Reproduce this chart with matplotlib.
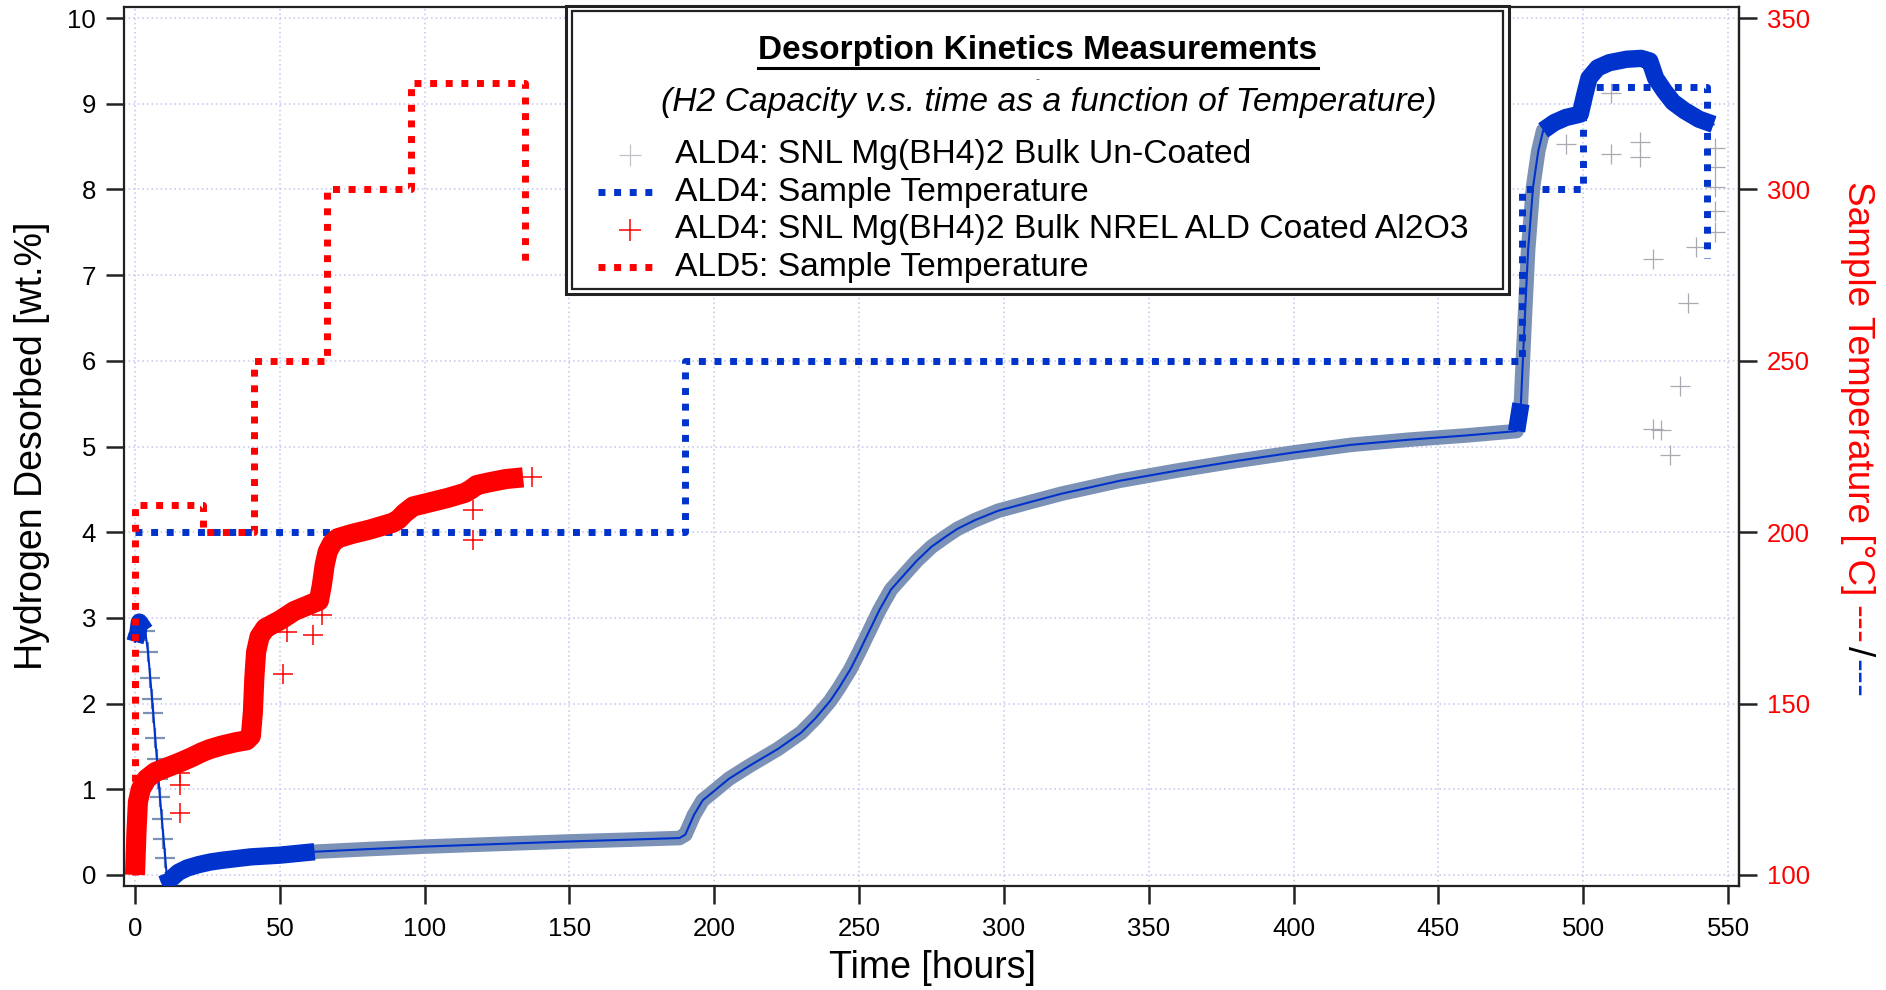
import numpy as np
import matplotlib
matplotlib.use('Agg')
import matplotlib.pyplot as plt
from matplotlib.lines import Line2D
from matplotlib.patches import Rectangle

plt.rcParams['font.family'] = ['Liberation Sans', 'DejaVu Sans']

# ---- ALD4 un-coated: H2 desorbed [wt.%] vs time [h] ----
ald4_time = [0, 0.5, 1.0, 1.5, 2.5, 3.5, 4.5, 6.3, 8.6, 10.9, 11.8, 13, 15, 18, 22, 26, 30, 35, 40, 45,
             50, 56, 62, 80, 100, 125, 150, 170, 188, 190, 193, 196, 200, 205, 212, 222, 230, 235, 240, 243,
             247, 250, 254, 257, 261, 266, 270, 275, 280, 284, 290, 298, 310, 320, 340, 360, 380, 400, 420, 440,
             460, 477, 478.5, 479.8, 481, 482.7, 484.5, 486.2, 490, 494, 499, 500.5, 502, 505, 509, 515, 520, 523,
             525, 528, 531, 535, 540, 545]
ald4_h2 = [2.72, 2.78, 2.82, 2.95, 2.9, 2.85, 2.6, 1.89, 0.91, 0.02, -0.06, -0.03, 0.03, 0.08, 0.12, 0.15, 0.17, 0.19, 0.21, 0.22,
           0.23, 0.25, 0.27, 0.3, 0.33, 0.36, 0.39, 0.41, 0.43, 0.47, 0.7, 0.87, 0.98, 1.12, 1.27, 1.47, 1.66, 1.83, 2.03, 2.18,
           2.4, 2.6, 2.88, 3.09, 3.33, 3.52, 3.67, 3.83, 3.95, 4.04, 4.14, 4.25, 4.36, 4.45, 4.6, 4.72, 4.83, 4.93, 5.02, 5.08,
           5.13, 5.18, 5.5, 6.47, 7.3, 8.03, 8.45, 8.69, 8.78, 8.84, 8.88, 9.1, 9.3, 9.42, 9.48, 9.52, 9.53, 9.5,
           9.3, 9.15, 9.02, 8.92, 8.82, 8.76]
# early drop, read from the "+" marks
ald4_drop_time = [3.5, 4.5, 5.2, 5.9, 6.3, 7.0, 7.6, 8.1, 8.6, 9.2, 9.8, 10.4]
ald4_drop_h2 = [2.85, 2.6, 2.3, 2.05, 1.89, 1.6, 1.35, 1.12, 0.91, 0.65, 0.42, 0.2]
# scattered points
ald4_out_time = [494.2, 509.7, 509.7, 519.5, 519.5, 524.1, 539, 536.2, 533.4, 524.1, 527, 530,
                 545.4, 545.4, 545.4, 545.4, 545.4]
ald4_out_h2 = [8.53, 9.13, 8.41, 8.55, 8.38, 7.19, 7.33, 6.67, 5.71, 5.21, 5.19, 4.90,
               8.49, 8.26, 8.03, 7.75, 7.5]

# ---- ALD4 NREL ALD coated Al2O3 ----
coat_time = [0, 0.5, 1.0, 2.0, 4.0, 7, 10, 13, 16, 20, 23, 26, 30, 35, 38.5, 40, 40.7, 41.2, 41.8, 43,
             45, 50, 55, 60, 63.5, 64.5, 65.5, 66.5, 68, 70, 75, 81, 85, 89, 91, 93, 96, 102, 108, 114,
             116, 118, 122, 128, 134]
coat_h2 = [0, 0.5, 0.85, 1.0, 1.12, 1.2, 1.24, 1.28, 1.32, 1.38, 1.43, 1.47, 1.51, 1.55, 1.57, 1.62, 1.9, 2.3, 2.6, 2.78,
           2.88, 2.97, 3.08, 3.15, 3.2, 3.38, 3.62, 3.77, 3.87, 3.93, 3.98, 4.03, 4.07, 4.11, 4.15, 4.22, 4.3, 4.35, 4.4, 4.46,
           4.5, 4.55, 4.58, 4.62, 4.64]
coat_out_time = [15.5, 15.5, 15.5, 51.2, 52.4, 61.5, 64.4, 116.7, 116.7, 136.9]
coat_out_h2 = [1.19, 1.05, 0.72, 2.35, 2.84, 2.80, 3.03, 4.26, 3.91, 4.64]

# ---- sample temperatures [°C] ----
ald4_temp_time = [0, 190, 190, 479, 479, 500, 500, 542.8, 542.8]
ald4_temp = [200, 200, 250, 250, 300, 300, 329.8, 329.8, 280]
ald5_temp_time = [0, 0, 23.6, 23.6, 41.1, 41.1, 66.4, 66.4, 95.4, 95.4, 134.8, 134.8]
ald5_temp = [100, 208, 208, 200, 200, 250, 250, 300, 300, 331, 331, 277]

x_ticks = list(range(0, 551, 50))
y_ticks = list(range(0, 11))
t_ticks = [100, 150, 200, 250, 300, 350]

legend_labels = ['ALD4: SNL Mg(BH4)2 Bulk Un-Coated',
                 'ALD4: Sample Temperature',
                 'ALD4: SNL Mg(BH4)2 Bulk NREL ALD Coated Al2O3',
                 'ALD5: Sample Temperature']

BLUE = '#0033cc'
BAND = '#7b92b6'
RED = '#ff0000'
GRAY = '#a9a9b2'
DOTS = (0, (1, 1.25))


def t2y(T):
    return (np.asarray(T, dtype=float) - 100.0) / 25.0


def y2t(y):
    return np.asarray(y, dtype=float) * 25.0 + 100.0


W, H = 1886, 990


def fx(px):
    return px / W


def fy(py):
    return 1 - py / H


fig = plt.figure(figsize=(W / 100, H / 100), dpi=100)
ax = fig.add_axes([fx(124), fy(886), (1739 - 124) / W, (886 - 7) / H])

t = np.array(ald4_time)
h = np.array(ald4_h2)

# grey/blue band made of the dense "+" marks, thin blue line through it
band = t >= 10.9
ax.plot(t[band], h[band], color=BAND, lw=10.5, solid_capstyle='butt', zorder=2)
for m in [t <= 3.5, (t >= 10.9) & (t <= 62), (t >= 477) & (t <= 478.5), t >= 486.2]:
    ax.plot(t[m], h[m], color=BLUE, lw=12.5, solid_capstyle='butt', zorder=3)
ax.plot(ald4_drop_time, ald4_drop_h2, ls='none', marker='+', ms=15, mew=1.6, color=BAND, zorder=2)
ax.plot(t, h, color=BLUE, lw=1.5, zorder=4)
ax.plot(ald4_out_time, ald4_out_h2, ls='none', marker='+', ms=14, mew=0.9, color=GRAY, zorder=3)

ax.plot(ald4_temp_time, t2y(ald4_temp), color=BLUE, lw=5, ls=DOTS, zorder=5)

ax.plot(coat_time, coat_h2, color=RED, lw=14.5, solid_capstyle='butt', solid_joinstyle='round', zorder=6)
ax.plot(coat_out_time, coat_out_h2, ls='none', marker='+', ms=15, mew=1.1, color=RED, zorder=6)

ax.plot(ald5_temp_time, t2y(ald5_temp), color=RED, lw=5, ls=DOTS, zorder=7)

ax.set_xlim(-3.8, 553.8)
ax.set_ylim(-0.13, 10.13)
ax.set_xticks(x_ticks)
ax.set_yticks(y_ticks)
ax.grid(True, color='#c4c4ec', lw=1.1, ls=(0, (1, 2)))
ax.set_axisbelow(True)
for s in ax.spines.values():
    s.set_linewidth(1.6)
    s.set_color('#222222')
ax.tick_params(direction='out', length=13, width=1.8, color='#222222', labelsize=18.5, pad=7)
ax.tick_params(axis='x', pad=9)

sec = ax.secondary_yaxis('right', functions=(y2t, t2y))
sec.set_yticks(t_ticks)
sec.tick_params(direction='out', length=13, width=1.8, color='#222222', labelsize=18.5,
                labelcolor=RED, pad=7)
sec.spines['right'].set_linewidth(1.6)
sec.spines['right'].set_color('#222222')

# axis titles
fig.text(fx(32), fy(446), 'Hydrogen Desorbed [wt.%]', rotation=90, ha='center', va='center', fontsize=27)
fig.text(fx(932), fy(968), 'Time [hours]', ha='center', va='center', fontsize=27)

# ---- legend box ----
fig.patches.append(Rectangle((fx(566), fy(294)), (1509 - 566) / W, (294 - 6) / H, transform=fig.transFigure,
                             facecolor='white', edgecolor='#222222', lw=2.2, zorder=10))
fig.patches.append(Rectangle((fx(572), fy(289)), (1503 - 572) / W, (289 - 11) / H, transform=fig.transFigure,
                             facecolor='none', edgecolor='#222222', lw=1.6, zorder=11))

title = fig.text(fx(1038), fy(50), 'Desorption Kinetics Measurements', ha='center', va='center',
                 fontsize=24, fontweight='bold', zorder=12)
fig.text(fx(1049), fy(103), '(H2 Capacity v.s. time as a function of Temperature)', ha='center', va='center',
         fontsize=24.2, style='italic', zorder=12)
fig.text(fx(1038), fy(80), '-', ha='center', va='center', fontsize=9, color='#555555', zorder=12)

rows = [155, 192, 230, 267]
handles = [
    dict(xdata=[fx(630)], ls='none', marker='+', ms=16, mew=0.9, color='#c2c2c8'),
    dict(xdata=[fx(598), fx(658)], color=BLUE, lw=5, ls=DOTS),
    dict(xdata=[fx(630)], ls='none', marker='+', ms=16, mew=1.1, color=RED),
    dict(xdata=[fx(598), fx(658)], color=RED, lw=5, ls=DOTS),
]
for row, hd, lab in zip(rows, handles, legend_labels):
    xd = hd.pop('xdata')
    ln = Line2D(xd, [fy(row)] * len(xd), transform=fig.transFigure, zorder=12, **hd)
    fig.lines.append(ln)
    fig.text(fx(675), fy(row), lab, ha='left', va='center', fontsize=24.2, zorder=12)

renderer = fig.canvas.get_renderer()
bb = title.get_window_extent(renderer)
inv = fig.transFigure.inverted()
x0 = inv.transform((bb.x0, 0))[0]
x1 = inv.transform((bb.x1, 0))[0]
fig.lines.append(Line2D([x0, x1], [fy(68), fy(68)], transform=fig.transFigure, color='black', lw=2.2, zorder=12))

# right axis title in several colours
parts = [('Sample Temperature [°C]', RED, 10, 26.6), ('---', RED, 2, 28), ('/', 'black', 2, 26.6),
         ('---', BLUE, 0, 28)]
y_cur = fy(181)
for txt, col, gap, size in parts:
    tt = fig.text(fx(1857), y_cur, txt, rotation=270, ha='center', va='top', fontsize=size, color=col)
    b = tt.get_window_extent(renderer)
    y_cur = inv.transform((0, b.y0))[1] - gap / H

fig.savefig('out.png', dpi=100)
